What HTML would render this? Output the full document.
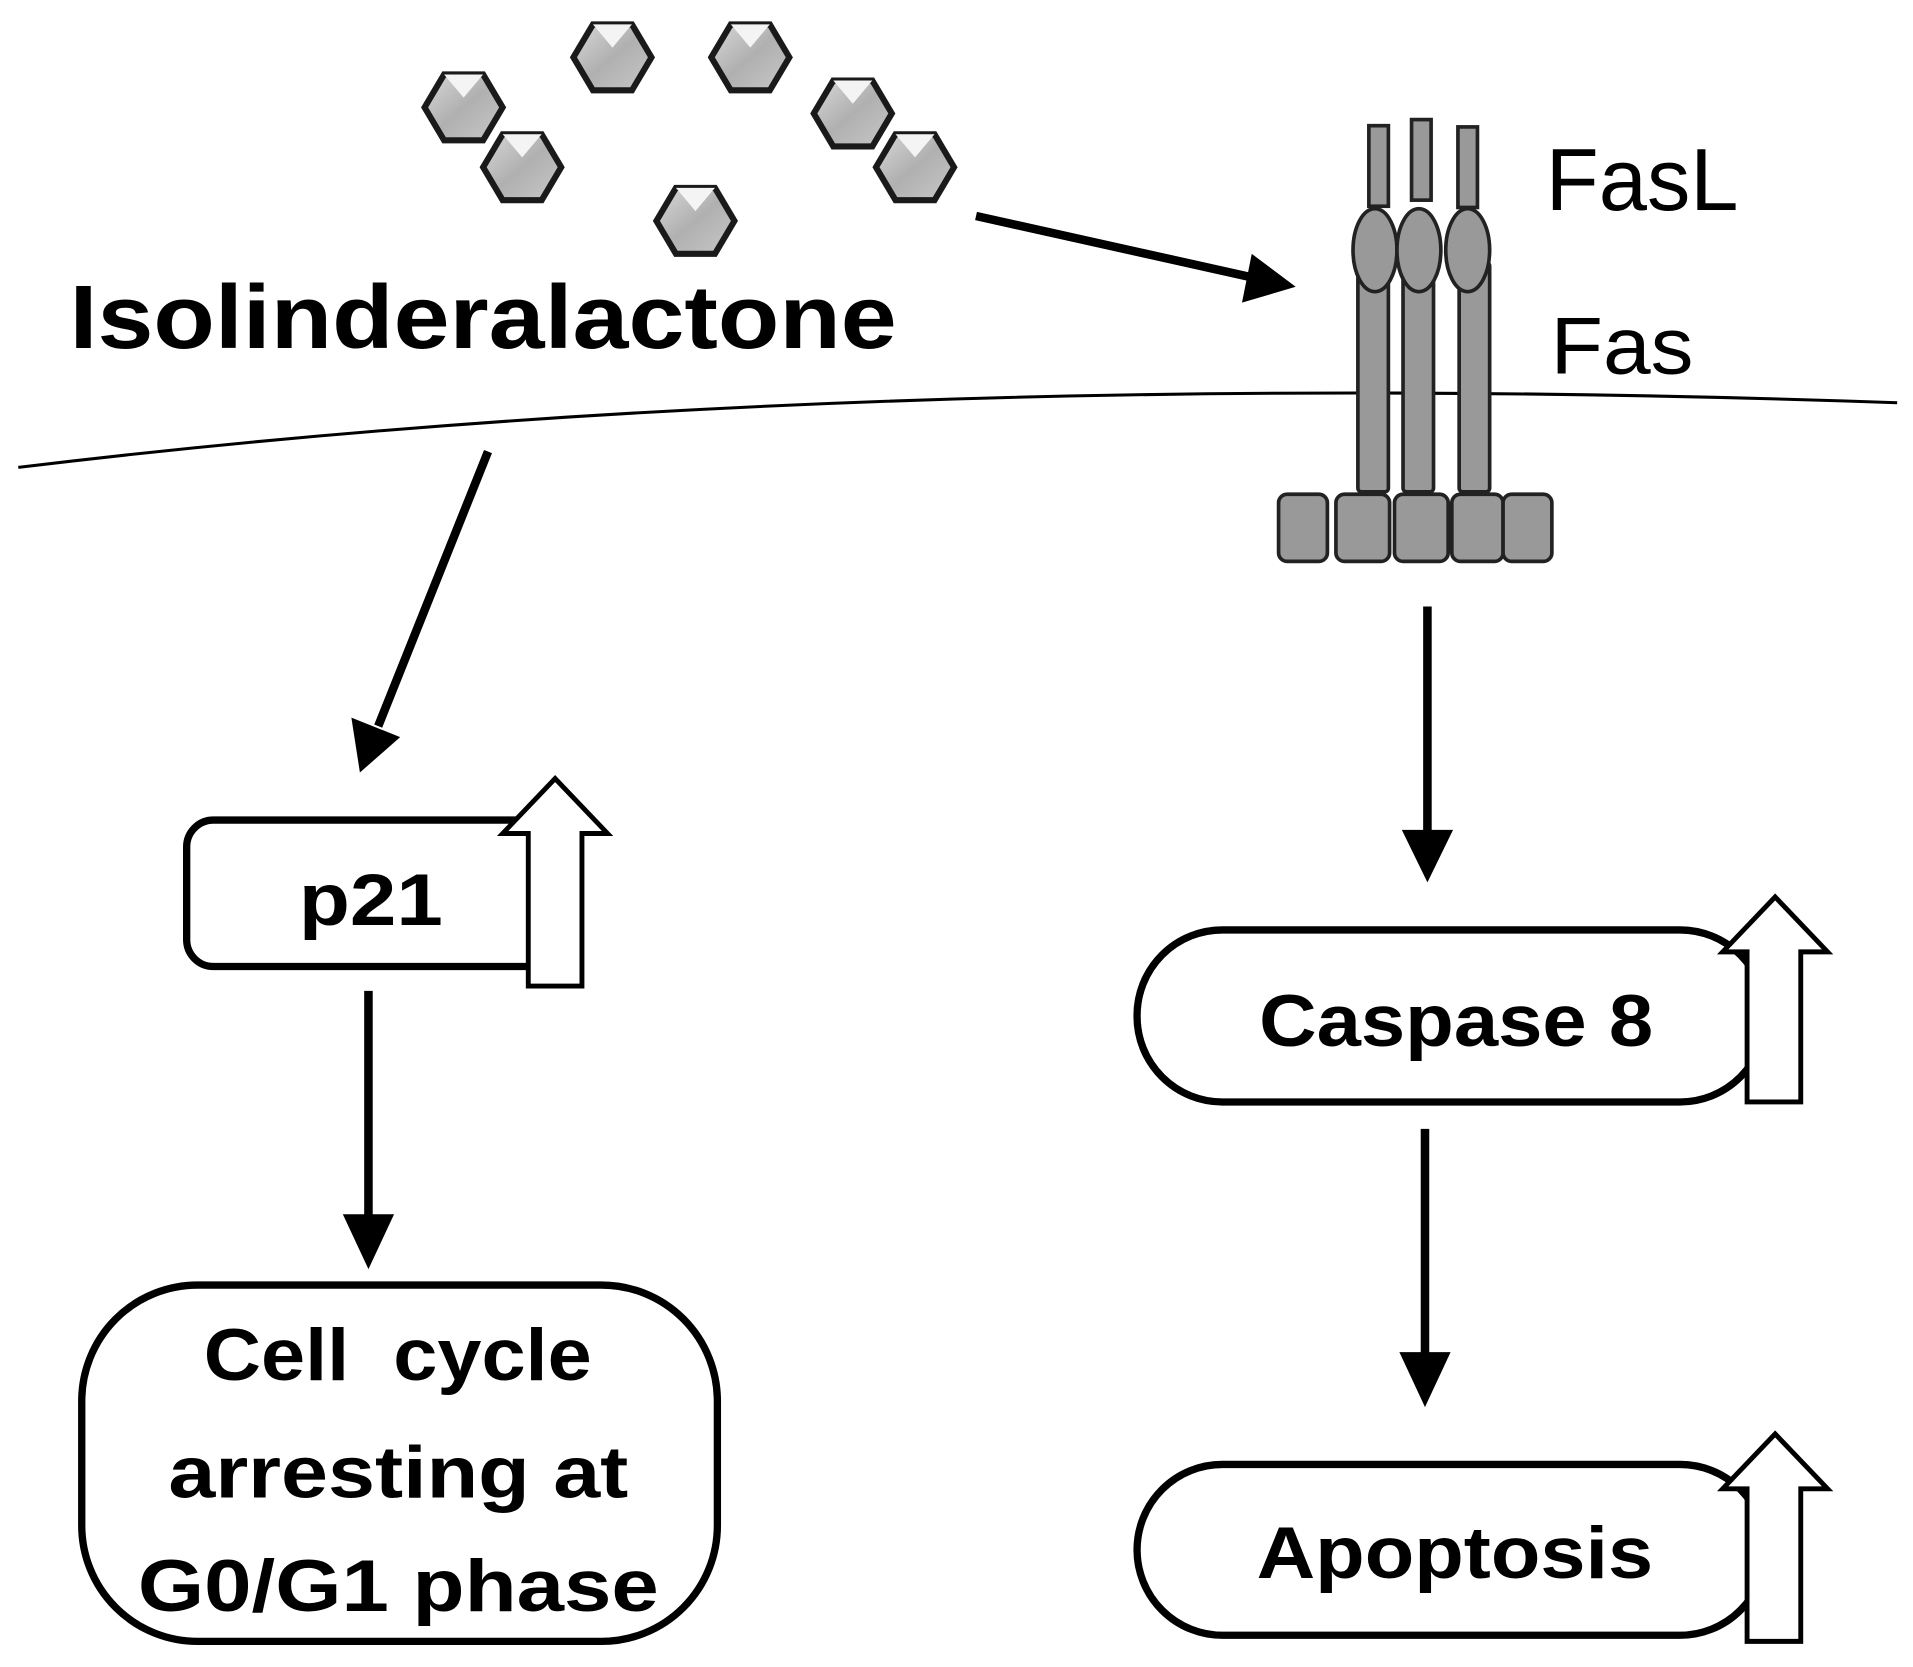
<!DOCTYPE html>
<html><head><meta charset="utf-8"><style>
html,body{margin:0;padding:0;background:#fff;}
svg{display:block;}
text{font-family:"Liberation Sans",sans-serif;fill:#000;}
</style></head><body>
<svg width="1913" height="1667" viewBox="0 0 1568 1366" preserveAspectRatio="none" xmlns="http://www.w3.org/2000/svg">
<defs>
<linearGradient id="hg" x1="0" y1="0" x2="1" y2="1">
<stop offset="0" stop-color="#d8d8d8"/><stop offset="0.5" stop-color="#b0b0b0"/><stop offset="1" stop-color="#c8c8c8"/>
</linearGradient>
<g id="hex"><polygon points="-32,0 -16,-27 16,-27 32,0 16,27 -16,27" fill="url(#hg)" stroke="#1a1a1a" stroke-width="5"/>
<polygon points="-16,-27 0,-8 16,-27" fill="#f4f4f4"/></g>
</defs>
<rect width="1568" height="1366" fill="#fff"/>
<use href="#hex" x="380" y="88"/>
<use href="#hex" x="428" y="137"/>
<use href="#hex" x="502" y="47"/>
<use href="#hex" x="615" y="47"/>
<use href="#hex" x="699" y="93"/>
<use href="#hex" x="750" y="137"/>
<use href="#hex" x="570" y="181"/>
<text x="57" y="285" font-size="74" font-weight="bold" textLength="678" lengthAdjust="spacingAndGlyphs">Isolinderalactone</text>
<path d="M15,383 Q700,300 1555,330" fill="none" stroke="#000" stroke-width="2.5"/>
<line x1="800" y1="177" x2="1025" y2="227" stroke="#000" stroke-width="7"/>
<polygon points="1062,235 1018,248 1026,208" fill="#000"/>
<line x1="400" y1="370" x2="310" y2="595" stroke="#000" stroke-width="7"/>
<polygon points="295,633 288,588 328,604" fill="#000"/>
<line x1="1170" y1="497" x2="1170" y2="690" stroke="#000" stroke-width="7"/>
<polygon points="1170,723 1149,680 1191,680" fill="#000"/>
<line x1="302" y1="812" x2="302" y2="1005" stroke="#000" stroke-width="7"/>
<polygon points="302,1040 281,995 323,995" fill="#000"/>
<line x1="1168" y1="925" x2="1168" y2="1118" stroke="#000" stroke-width="7"/>
<polygon points="1168,1153 1147,1108 1189,1108" fill="#000"/>
<g fill="#999" stroke="#222" stroke-width="3">
<rect x="1113" y="215" width="25" height="188" rx="3"/>
<rect x="1150" y="215" width="25" height="188" rx="3"/>
<rect x="1196" y="215" width="25" height="188" rx="3"/>
<rect x="1122" y="103" width="16" height="66"/>
<rect x="1157" y="98" width="16" height="66"/>
<rect x="1195" y="104" width="16" height="66"/>
<ellipse cx="1127" cy="205" rx="18" ry="34"/>
<ellipse cx="1163" cy="205" rx="18" ry="34"/>
<ellipse cx="1203" cy="205" rx="18" ry="34"/>
<rect x="1048" y="405" width="40" height="55" rx="7"/>
<rect x="1095" y="405" width="44" height="55" rx="7"/>
<rect x="1143" y="405" width="44" height="55" rx="7"/>
<rect x="1190" y="405" width="42" height="55" rx="7"/>
<rect x="1232" y="405" width="40" height="55" rx="7"/>
</g>
<text x="1267" y="172" font-size="72" textLength="158" lengthAdjust="spacingAndGlyphs">FasL</text>
<text x="1271" y="306" font-size="66" textLength="117" lengthAdjust="spacingAndGlyphs">Fas</text>
<rect x="153" y="672" width="317" height="120" rx="22" fill="#fff" stroke="#000" stroke-width="6"/>
<text x="245" y="758" font-size="60" font-weight="bold" textLength="118" lengthAdjust="spacingAndGlyphs">p21</text>
<polygon points="433,808 477,808 477,683 498,683 455,638 412,683 433,683" fill="#fff" stroke="#000" stroke-width="4"/>
<rect x="67" y="1053" width="521" height="292" rx="95" fill="#fff" stroke="#000" stroke-width="6"/>
<text x="167" y="1131" font-size="60" font-weight="bold" textLength="318" lengthAdjust="spacingAndGlyphs" xml:space="preserve">Cell  cycle</text>
<text x="138" y="1227" font-size="60" font-weight="bold" textLength="377" lengthAdjust="spacingAndGlyphs">arresting at</text>
<text x="113" y="1320" font-size="60" font-weight="bold" textLength="427" lengthAdjust="spacingAndGlyphs">G0/G1 phase</text>
<rect x="932" y="762" width="515" height="141" rx="70" fill="#fff" stroke="#000" stroke-width="6"/>
<text x="1032" y="857" font-size="60" font-weight="bold" textLength="323" lengthAdjust="spacingAndGlyphs">Caspase 8</text>
<polygon points="1432,903 1476,903 1476,780 1498,780 1455,735 1412,780 1432,780" fill="#fff" stroke="#000" stroke-width="4"/>
<rect x="932" y="1200" width="515" height="140" rx="70" fill="#fff" stroke="#000" stroke-width="6"/>
<text x="1030" y="1293" font-size="60" font-weight="bold" textLength="325" lengthAdjust="spacingAndGlyphs">Apoptosis</text>
<polygon points="1432,1345 1476,1345 1476,1220 1498,1220 1455,1175 1412,1220 1432,1220" fill="#fff" stroke="#000" stroke-width="4"/>
</svg>
</body></html>
